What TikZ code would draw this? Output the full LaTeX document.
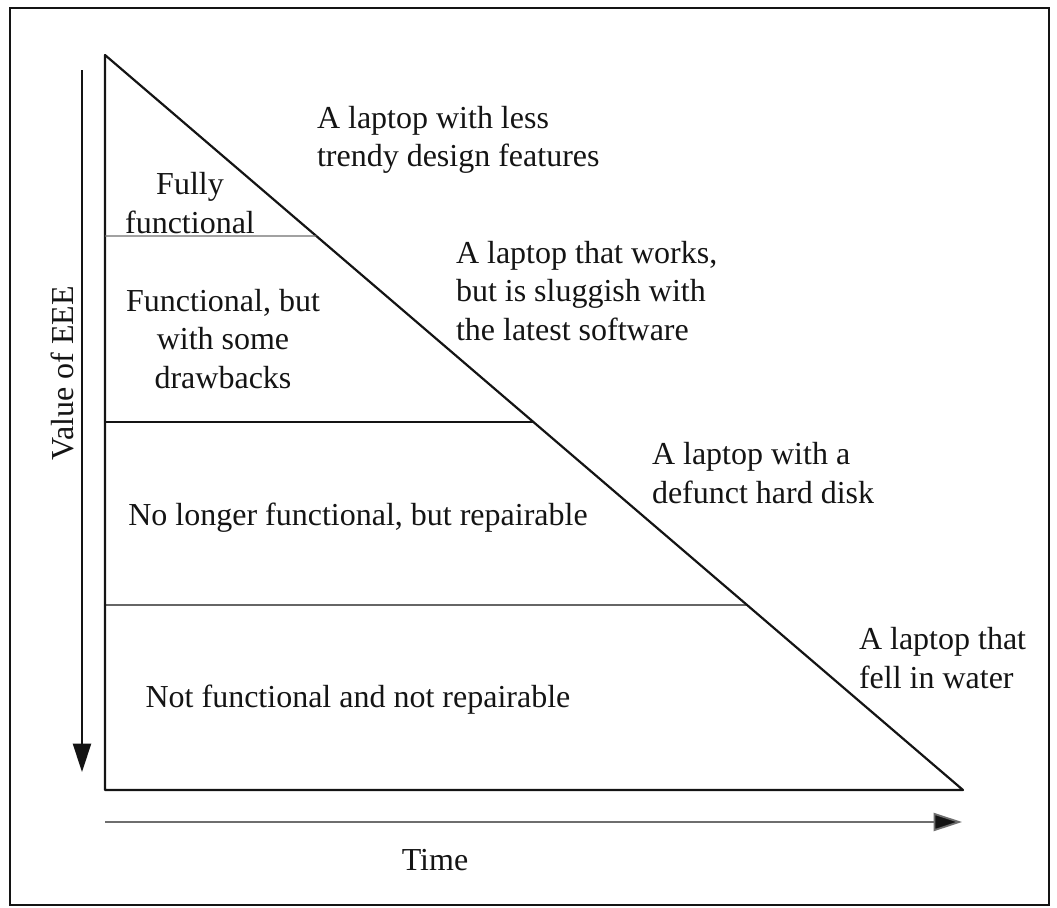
\documentclass[tikz,border=0pt]{standalone}
\usepackage{fontspec}
\setmainfont{Liberation Serif}
\usepackage{tikz}
\usetikzlibrary{positioning,calc,arrows.meta}
\tikzset{evpx/.style={x=0.5pt,y=-0.5pt,every node/.style={inner sep=0pt,outer sep=0pt,anchor=center}}}
\definecolor{evline}{HTML}{141414}
\definecolor{evgrey}{HTML}{6E6E6E}
\tikzset{
  moldura/.style={draw=evline,line width=1.1pt},
  tri/.style={draw=evline,line width=1.1pt,line join=round},
  faixa/.style={draw=evline,line width=0.8pt},
  faixafina/.style={draw=evgrey,line width=0.7pt},
  eixo/.style={line width=0.9pt,-{Triangle[length=5mm,width=3.2mm]}},
  rot/.style={font=\fontsize{16}{19.3}\selectfont,text=evline,align=center},
  rotesq/.style={rot,align=left,anchor=west},
}

\begin{document}
\begin{tikzpicture}[evpx]
  \useasboundingbox (0,0) rectangle (1057,907);
  \draw[moldura] (10,8) rectangle (1049,905);
  % triangle and bands
  \coordinate (topo) at (105,55);
  \coordinate (base) at (105,790);
  \coordinate (ponta) at (963,790);
  \draw[tri] (topo) -- (base) -- (ponta) -- cycle;
  \coordinate (f1) at (105,236);
  \coordinate (f2) at (105,422);
  \coordinate (f3) at (105,605);
  \draw[faixafina] (f1) -- ($(topo)!{(236-55)/735}!(ponta)$);
  \draw[faixa] (f2) -- ($(topo)!{(422-55)/735}!(ponta)$);
  \draw[faixafina,draw=evline] (f3) -- ($(topo)!{(605-55)/735}!(ponta)$);
  % axes
  \coordinate (v0) at (82,70);
  \coordinate (v1) at (82,772);
  \draw[eixo,evline] (v0) -- (v1);
  \coordinate (t0) at (105,822);
  \coordinate (t1) at (962,822);
  \draw[eixo,evgrey,-{Triangle[length=5mm,width=3.2mm,fill=evline]}] (t0) -- (t1);
  \node[rot,rotate=90] (valor) at (62,373) {Value of EEE};
  \node[rot] (tempo) at (435,860) {Time};
  % band labels
  \node[rot] (pleno) at (190,203) {Fully\\functional};
  \node[rot] (func) at (223,339) {Functional, but\\with some\\drawbacks};
  \node[rot] (repar) at (358,518) {No longer functional, but repairable};
  \node[rot] (morto) at (358,700) {Not functional and not repairable};
  % examples
  \node[rotesq] (ex1) at (317,140) {A laptop with less\\trendy design features};
  \node[rotesq] (ex2) at (456,291) {A laptop that works,\\but is sluggish with\\the latest software};
  \node[rotesq] (ex3) at (652,473) {A laptop with a\\defunct hard disk};
  \node[rotesq] (ex4) at (859,658) {A laptop that\\fell in water};
\end{tikzpicture}
\end{document}
